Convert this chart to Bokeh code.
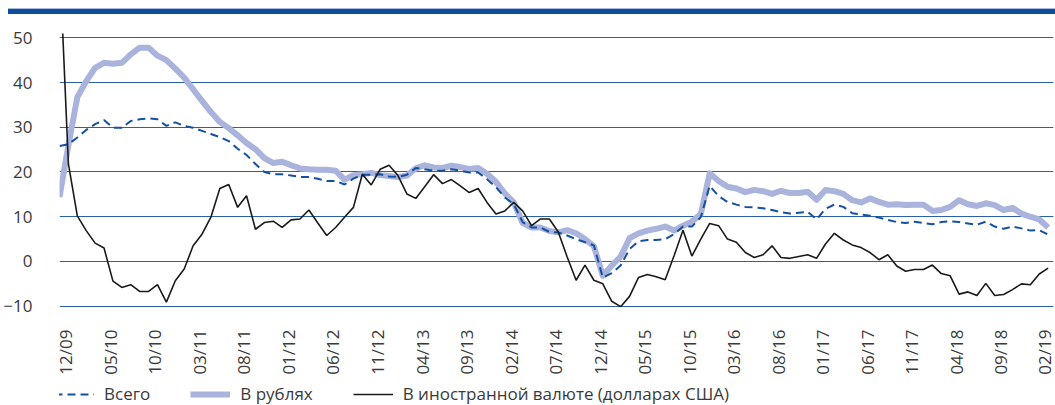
import math
from bokeh.plotting import figure
from bokeh.models import Range1d, FixedTicker, Legend, LegendItem, Div, ColumnDataSource
from bokeh.layouts import column
from bokeh.embed import file_html
from bokeh.resources import INLINE

# ---- data (monthly, 12/09 .. 03/19), % y/y ----
tick_labels = ["12/09", "05/10", "10/10", "03/11", "08/11", "01/12", "06/12", "11/12",
               "04/13", "09/13", "02/14", "07/14", "12/14", "05/15", "10/15", "03/16",
               "08/16", "01/17", "06/17", "11/17", "04/18", "09/18", "02/19"]

total = [25.8, 26.2, 27.7, 29.4, 30.7, 31.6, 29.9, 29.9, 31.4, 31.8,
         32.0, 31.8, 30.3, 31.1, 30.3, 29.9, 29.2, 28.5, 27.8, 26.9,
         25.2, 23.8, 21.8, 20.0, 19.5, 19.5, 19.2, 18.9, 18.9, 18.5,
         18.0, 18.0, 17.2, 18.5, 19.4, 19.4, 19.5, 19.0, 18.9, 19.4,
         20.9, 20.6, 20.3, 20.3, 20.6, 20.3, 19.9, 19.9, 18.4, 16.6,
         14.3, 12.8, 8.8, 7.6, 7.6, 6.6, 6.5, 5.8, 5.0, 4.3,
         3.6, -3.6, -2.6, -0.9, 2.8, 4.5, 4.8, 4.8, 5.0, 6.1,
         7.8, 7.8, 9.9, 16.9, 14.6, 13.3, 12.7, 12.2, 12.1, 11.9,
         11.5, 11.0, 10.7, 10.9, 11.1, 9.4, 11.8, 12.7, 12.2, 10.8,
         10.5, 10.2, 9.8, 9.3, 8.8, 8.6, 8.9, 8.6, 8.3, 8.8,
         9.0, 8.8, 8.5, 8.2, 8.9, 7.8, 7.3, 7.8, 7.4, 6.9,
         7.0, 6.0]

rub = [14.4, 26.0, 36.7, 40.3, 43.3, 44.4, 44.2, 44.4, 46.3, 47.8,
       47.8, 46.0, 45.0, 43.1, 41.1, 38.5, 35.9, 33.4, 31.2, 29.8,
       28.2, 26.5, 25.1, 23.1, 22.0, 22.3, 21.5, 20.8, 20.6, 20.5,
       20.5, 20.3, 18.3, 19.3, 19.5, 19.8, 19.3, 19.1, 18.9, 19.2,
       20.8, 21.5, 21.0, 20.9, 21.4, 21.1, 20.7, 20.9, 19.6, 17.8,
       15.2, 13.2, 8.6, 7.6, 7.6, 6.8, 6.5, 7.0, 6.3, 5.0,
       3.4, -3.2, -0.9, 1.1, 5.2, 6.3, 6.9, 7.3, 7.8, 6.9,
       8.0, 8.9, 10.6, 19.7, 18.0, 16.7, 16.3, 15.5, 16.0, 15.7,
       15.1, 15.8, 15.3, 15.3, 15.6, 13.8, 16.0, 15.7, 15.1, 13.7,
       13.2, 14.1, 13.3, 12.7, 12.8, 12.6, 12.7, 12.7, 11.3, 11.5,
       12.2, 13.7, 12.8, 12.4, 13.0, 12.6, 11.5, 12.0, 10.7, 10.0,
       9.4, 7.6]

fx = [67.7, 21.8, 10.2, 6.9, 4.1, 3.0, -4.4, -5.8, -5.2, -6.7,
      -6.7, -5.2, -9.1, -4.3, -1.7, 3.5, 6.1, 9.9, 16.3, 17.2,
      12.1, 14.7, 7.2, 8.7, 9.0, 7.6, 9.3, 9.5, 11.5, 8.6,
      5.8, 7.6, 9.9, 12.1, 19.5, 17.1, 20.6, 21.5, 19.2, 15.1,
      14.1, 16.7, 19.4, 17.4, 18.3, 16.9, 15.4, 16.3, 13.2, 10.6,
      11.3, 13.2, 11.3, 8.0, 9.5, 9.5, 6.6, 1.0, -4.2, -0.8,
      -4.2, -5.0, -8.9, -10.1, -7.8, -3.6, -2.9, -3.4, -4.1, 1.3,
      7.0, 1.2, 5.0, 8.5, 8.0, 5.0, 4.3, 2.0, 0.9, 1.5,
      3.5, 0.9, 0.7, 1.1, 1.5, 0.7, 3.9, 6.3, 4.8, 3.7,
      3.1, 2.0, 0.4, 1.5, -1.0, -2.2, -1.8, -1.8, -0.8, -2.7,
      -3.2, -7.3, -6.8, -7.6, -4.9, -7.6, -7.4, -6.3, -5.0, -5.2,
      -2.8, -1.5]

series_names = ["Всего", "В рублях", "В иностранной валюте (долларах США)"]

x = list(range(len(total)))
src = ColumnDataSource(dict(x=x, total=total, rub=rub, fx=fx))

FONT = "Open Sans"
TXT = "#3a3a3a"
GRID = "#2b5fa8"
DARK = "#1450a0"
LIGHT = "#a9b3dc"
BLACK = "#1a1a1a"

# ---- header bar ----
bar = Div(text="", width=1047, height=6, margin=(8, 0, 0, 8),
          styles={"background-color": "#0c4d9c", "border-top": "1px solid #a4bde0",
                  "box-sizing": "border-box"})

# ---- main chart ----
p = figure(width=1055, height=363,
           x_range=Range1d(0, 111.6), y_range=Range1d(-10.29, 50.96),
           output_backend="svg", toolbar_location=None,
           min_border_left=55, min_border_right=2,
           min_border_top=19, min_border_bottom=70)
p.outline_line_color = None
p.background_fill_color = "white"
p.border_fill_color = "white"

p.xgrid.visible = False
p.ygrid.grid_line_color = GRID
p.ygrid.grid_line_width = 1

p.yaxis.ticker = FixedTicker(ticks=[-10, 0, 10, 20, 30, 40, 50])
p.yaxis.axis_line_color = None
p.yaxis.major_tick_line_color = None
p.yaxis.minor_tick_line_color = None
p.yaxis.major_label_standoff = 21
p.yaxis.major_label_text_font = FONT
p.yaxis.major_label_text_font_size = "17px"
p.yaxis.major_label_text_color = TXT

label_off = 0.7
tick_pos = [5 * k + label_off for k in range(len(tick_labels))]
p.xaxis.ticker = FixedTicker(ticks=tick_pos)
p.xaxis.major_label_overrides = {t: lab for t, lab in zip(tick_pos, tick_labels)}
p.xaxis.major_label_orientation = math.pi / 2
p.xaxis.axis_line_color = None
p.xaxis.major_tick_line_color = None
p.xaxis.minor_tick_line_color = None
p.xaxis.major_label_standoff = 16
p.xaxis.major_label_text_font = FONT
p.xaxis.major_label_text_font_size = "17px"
p.xaxis.major_label_text_color = TXT

p.line("x", "rub", source=src, line_color=LIGHT, line_width=6, line_join="round")
p.line("x", "total", source=src, line_color=DARK, line_width=2, line_dash="8 5")
p.line("x", "fx", source=src, line_color=BLACK, line_width=1.6)

# ---- legend strip (its ranges keep the series out of view; only the legend shows) ----
q = figure(width=1055, height=28, x_range=Range1d(-2, -1), y_range=Range1d(-2, -1),
           output_backend="svg", toolbar_location=None, title=None,
           x_axis_location=None, y_axis_location=None, min_border=0)
q.outline_line_color = None
q.xgrid.visible = False
q.ygrid.visible = False
l_tot = q.line("x", "total", source=src, line_color=DARK, line_width=2, line_dash="8 5")
l_rub = q.line("x", "rub", source=src, line_color=LIGHT, line_width=6)
l_fx = q.line("x", "fx", source=src, line_color=BLACK, line_width=1.6)

legend = Legend(items=[LegendItem(label=series_names[0], renderers=[l_tot]),
                       LegendItem(label=series_names[1], renderers=[l_rub]),
                       LegendItem(label=series_names[2], renderers=[l_fx])],
                orientation="horizontal", location=(-5, 0),
                glyph_width=40, glyph_height=20, label_standoff=10, spacing=40,
                padding=0, margin=0, border_line_alpha=0, background_fill_alpha=0,
                label_text_font=FONT, label_text_font_size="17px", label_text_color=TXT)
q.add_layout(legend)

layout = column(bar, p, q, spacing=0)

open("out.html", "w").write(file_html(layout, INLINE))
